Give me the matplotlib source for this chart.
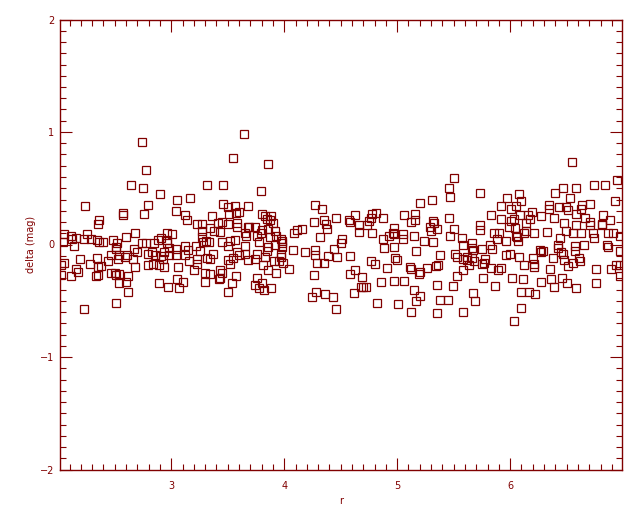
import matplotlib
matplotlib.use("Agg")
import matplotlib.pyplot as plt
from matplotlib.ticker import MultipleLocator

# r values and magnitude residuals (left to right)
r = [
    2.74, 2.78, 2.64, 2.75, 2.24, 2.79, 2.57, 2.57, 2.76, 2.36, 2.35, 2.05, 2.11, 2.12, 2.16, 2.25, 2.23,
    2.29, 2.34, 2.36, 2.40, 2.48, 2.60, 2.68, 2.74, 2.78, 2.04, 2.14, 2.52, 2.51, 2.51, 2.67, 2.70, 2.47,
    2.54, 2.53, 2.61, 2.59, 2.66, 2.79, 2.83, 2.19, 2.34, 2.05, 2.28, 2.35, 2.38, 2.44, 2.68, 2.79, 2.02,
    2.16, 2.17, 2.47, 2.50, 2.51, 2.54, 2.62, 2.02, 2.11, 2.33, 2.35, 2.54, 2.60, 2.62, 2.51, 2.23,
    # 2.8 - 3.7
    3.64, 3.55, 3.32, 3.46, 2.90, 3.05, 3.17, 3.04, 3.46, 3.50, 3.56, 3.51, 3.57, 3.60, 3.68, 3.12, 3.14,
    3.36, 3.23, 3.27, 3.41, 3.45, 3.50, 3.58, 3.58, 3.68, 3.34, 3.38, 3.27, 3.43, 3.65, 3.66, 3.27, 2.96,
    3.01, 2.85, 2.88, 2.91, 2.96, 2.96, 3.28, 3.31, 3.33, 3.45, 3.52, 3.56, 3.50, 3.65, 3.12, 3.22, 2.98,
    3.04, 3.15, 3.25, 2.94, 2.86, 2.91, 2.98, 3.04, 3.12, 3.37, 3.58, 3.60, 3.65, 3.32, 3.34, 3.50, 3.55,
    3.68, 3.23, 3.23, 3.16, 2.93, 2.84, 2.89, 2.94, 3.06, 3.52, 3.20, 3.30, 3.34, 3.43, 3.45, 3.43, 3.42,
    3.57, 3.54, 3.05, 3.10, 2.89, 2.97, 3.07, 3.30, 3.50,
    # 3.7 - 4.5
    3.86, 3.79, 4.27, 4.33, 4.46, 4.26, 4.35, 4.37, 4.38, 3.80, 3.83, 3.85, 3.87, 3.88, 3.90, 3.69, 3.74,
    3.80, 3.86, 3.92, 3.76, 3.79, 3.87, 3.93, 4.11, 4.16, 4.09, 4.32, 3.78, 3.97, 3.98, 3.98, 3.98, 3.92,
    3.86, 3.85, 4.08, 4.18, 4.27, 4.27, 4.44, 4.50, 4.51, 4.39, 4.47, 3.76, 3.83, 3.97, 3.97, 3.74, 3.81,
    3.91, 3.95, 3.99, 3.86, 3.93, 4.04, 4.29, 4.35, 4.26, 3.76, 3.74, 3.80, 3.78, 3.82, 3.88, 4.28, 4.25,
    4.36, 4.43, 4.46,
    # 4.5 - 5.35
    5.20, 5.31, 5.06, 5.16, 5.16, 5.12, 5.32, 5.33, 5.29, 5.30, 5.35, 4.57, 4.58, 4.63, 4.66, 4.66, 4.73,
    4.75, 4.77, 4.78, 4.81, 4.87, 4.97, 4.96, 4.97, 4.93, 5.05, 5.05, 5.15, 4.78, 4.87, 4.88, 4.97, 5.24,
    5.32, 5.17, 4.58, 4.98, 5.00, 4.77, 4.80, 4.91, 5.11, 5.12, 5.20, 5.19, 5.26, 5.34, 4.58, 4.63, 4.69,
    4.68, 4.70, 4.72, 4.62, 4.86, 4.97, 5.06, 5.15, 5.20, 5.17, 5.12, 4.82, 5.01,
    # 5.35 - 6.2
    5.50, 5.46, 5.47, 5.73, 6.08, 5.97, 6.10, 5.92, 6.01, 6.05, 6.19, 6.09, 6.16, 6.18, 5.83, 5.92, 6.01,
    6.03, 6.14, 5.46, 5.50, 5.47, 5.57, 5.73, 5.73, 5.99, 6.04, 6.14, 6.05, 6.06, 6.12, 6.07, 5.86, 5.90,
    5.88, 5.96, 5.58, 5.66, 5.66, 5.67, 5.82, 5.84, 5.75, 5.38, 5.51, 5.53, 5.58, 5.62, 5.62, 5.66, 5.68,
    5.64, 5.78, 5.75, 5.77, 5.83, 5.89, 5.92, 5.96, 6.00, 6.08, 6.12, 5.36, 5.58, 5.53, 5.76, 6.02, 6.11,
    5.49, 5.87, 5.35, 5.38, 5.45, 5.67, 5.69, 6.10, 6.17, 6.10, 5.58, 5.35, 6.03,
    # 6.2 - 7.0
    6.55, 6.74, 6.84, 6.95, 6.47, 6.58, 6.40, 6.53, 6.93, 6.71, 6.34, 6.34, 6.43, 6.49, 6.51, 6.64, 6.63,
    6.58, 6.27, 6.39, 6.66, 6.82, 6.88, 6.48, 6.58, 6.71, 6.71, 6.81, 6.81, 6.49, 6.33, 6.21, 6.56, 6.63,
    6.73, 6.74, 6.87, 6.91, 6.97, 6.44, 6.42, 6.42, 6.57, 6.57, 6.65, 6.86, 6.87, 6.26, 6.27, 6.29, 6.45,
    6.47, 6.48, 6.38, 6.20, 6.61, 6.62, 6.56, 6.51, 6.97, 6.94, 6.97, 6.21, 6.21, 6.35, 6.76, 6.89, 6.97,
    6.36, 6.46, 6.27, 6.50, 6.76, 6.39, 6.58, 6.22,
]
delta = [
    0.91, 0.66, 0.53, 0.50, 0.34, 0.35, 0.28, 0.26, 0.27, 0.22, 0.18, 0.09, 0.08, 0.05, 0.06, 0.09, 0.05,
    0.05, 0.04, 0.02, 0.02, 0.04, 0.07, 0.10, 0.01, 0.01, 0.02, -0.01, 0.01, -0.02, -0.04, -0.04, -0.07, -0.09,
    -0.09, -0.13, -0.09, -0.11, -0.13, -0.08, -0.07, -0.13, -0.12, -0.16, -0.17, -0.20, -0.19, -0.15, -0.20, -0.18, -0.18,
    -0.22, -0.24, -0.25, -0.25, -0.27, -0.26, -0.28, -0.27, -0.28, -0.28, -0.27, -0.34, -0.33, -0.42, -0.52, -0.57,
    # 2.8 - 3.7
    0.98, 0.77, 0.53, 0.53, 0.45, 0.40, 0.41, 0.30, 0.36, 0.33, 0.34, 0.27, 0.28, 0.29, 0.34, 0.26, 0.22,
    0.25, 0.18, 0.18, 0.19, 0.20, 0.18, 0.19, 0.16, 0.16, 0.15, 0.12, 0.12, 0.11, 0.10, 0.08, 0.07, 0.10,
    0.09, 0.01, 0.04, 0.06, 0.04, 0.01, 0.02, 0.03, 0.02, 0.02, 0.03, 0.04, -0.01, -0.01, -0.01, -0.01, -0.03,
    -0.04, -0.05, -0.06, -0.07, -0.09, -0.10, -0.09, -0.09, -0.09, -0.08, -0.07, -0.09, -0.08, -0.12, -0.13, -0.14, -0.12,
    -0.14, -0.13, -0.17, -0.15, -0.13, -0.17, -0.18, -0.20, -0.20, -0.17, -0.23, -0.25, -0.26, -0.23, -0.25, -0.30, -0.31,
    -0.28, -0.34, -0.31, -0.33, -0.34, -0.38, -0.39, -0.33, -0.42,
    # 3.7 - 4.5
    0.72, 0.48, 0.35, 0.32, 0.24, 0.20, 0.22, 0.18, 0.14, 0.27, 0.25, 0.23, 0.22, 0.25, 0.19, 0.16, 0.16,
    0.13, 0.14, 0.12, 0.08, 0.10, 0.07, 0.08, 0.13, 0.14, 0.10, 0.07, 0.02, 0.05, 0.03, 0.01, -0.02, 0.00,
    -0.02, -0.06, -0.05, -0.07, -0.05, -0.09, -0.04, 0.01, 0.05, -0.10, -0.11, -0.08, -0.11, -0.08, -0.11, -0.13, -0.18,
    -0.15, -0.15, -0.16, -0.23, -0.25, -0.22, -0.16, -0.16, -0.27, -0.30, -0.36, -0.34, -0.39, -0.40, -0.39, -0.42, -0.47,
    -0.44, -0.47, -0.57,
    # 4.5 - 5.35
    0.37, 0.40, 0.26, 0.27, 0.22, 0.20, 0.21, 0.19, 0.16, 0.12, 0.14, 0.22, 0.20, 0.26, 0.17, 0.11, 0.17,
    0.21, 0.24, 0.27, 0.28, 0.24, 0.15, 0.10, 0.09, 0.08, 0.09, 0.05, 0.08, 0.10, 0.05, -0.03, -0.02, 0.03,
    0.02, -0.06, -0.10, -0.12, -0.14, -0.15, -0.17, -0.21, -0.20, -0.22, -0.24, -0.26, -0.21, -0.19, -0.26, -0.23, -0.29,
    -0.38, -0.38, -0.38, -0.43, -0.33, -0.32, -0.32, -0.40, -0.46, -0.50, -0.60, -0.52, -0.53,
    # 5.35 - 6.2
    0.59, 0.50, 0.42, 0.46, 0.45, 0.41, 0.39, 0.34, 0.32, 0.34, 0.29, 0.26, 0.26, 0.23, 0.26, 0.23, 0.21,
    0.23, 0.19, 0.24, 0.14, 0.08, 0.06, 0.13, 0.17, 0.16, 0.15, 0.12, 0.08, 0.07, 0.10, 0.03, 0.10, 0.10,
    0.05, 0.03, 0.00, 0.01, -0.03, -0.05, 0.00, -0.04, -0.04, -0.09, -0.08, -0.11, -0.13, -0.11, -0.14, -0.12, -0.15,
    -0.18, -0.13, -0.17, -0.16, -0.21, -0.23, -0.21, -0.09, -0.08, -0.11, -0.18, -0.18, -0.23, -0.28, -0.30, -0.30, -0.31,
    -0.37, -0.37, -0.36, -0.49, -0.49, -0.43, -0.50, -0.42, -0.42, -0.56, -0.60, -0.61, -0.68,
    # 6.2 - 7.0
    0.73, 0.53, 0.53, 0.57, 0.50, 0.50, 0.46, 0.41, 0.39, 0.36, 0.35, 0.32, 0.33, 0.33, 0.31, 0.35, 0.32,
    0.27, 0.25, 0.24, 0.24, 0.26, 0.22, 0.19, 0.17, 0.20, 0.17, 0.17, 0.18, 0.12, 0.11, 0.10, 0.10, 0.10,
    0.10, 0.06, 0.10, 0.10, 0.08, 0.06, 0.00, -0.03, -0.01, -0.06, 0.00, 0.00, -0.02, -0.05, -0.07, -0.06, -0.07,
    -0.08, -0.14, -0.12, -0.12, -0.12, -0.15, -0.16, -0.19, -0.06, -0.18, -0.18, -0.17, -0.20, -0.22, -0.22, -0.22, -0.28,
    -0.31, -0.30, -0.33, -0.34, -0.34, -0.38, -0.39, -0.44,
]

col = '#800000'

fig = plt.figure(figsize=(6.4, 5.12), dpi=100)
ax = fig.add_axes([60 / 640, 1 - 469.5 / 512, 562 / 640, 450 / 512])

ax.plot(r, delta, linestyle='none', marker='s', markersize=5.2,
        markerfacecolor='none', markeredgecolor=col, markeredgewidth=0.9)

ax.set_xlim(2.015, 6.99)
ax.set_ylim(-2, 2)
ax.xaxis.set_major_locator(MultipleLocator(1))
ax.xaxis.set_minor_locator(MultipleLocator(0.1))
ax.yaxis.set_major_locator(MultipleLocator(1))
ax.yaxis.set_minor_locator(MultipleLocator(0.1))

for s in ax.spines.values():
    s.set_color(col)
    s.set_linewidth(1)
ax.tick_params(which='both', direction='in', top=True, right=True, color=col,
               labelcolor=col, labelsize=7, width=0.8)
ax.tick_params(which='major', length=8.5)
ax.tick_params(which='minor', length=4.2)
ax.tick_params(axis='x', pad=8)
ax.tick_params(axis='y', pad=4)

ax.set_xlabel('r', color=col, fontsize=7, labelpad=4)
ax.set_ylabel('delta (mag)', color=col, fontsize=7, labelpad=3)

plt.savefig("out.png", dpi=100)
